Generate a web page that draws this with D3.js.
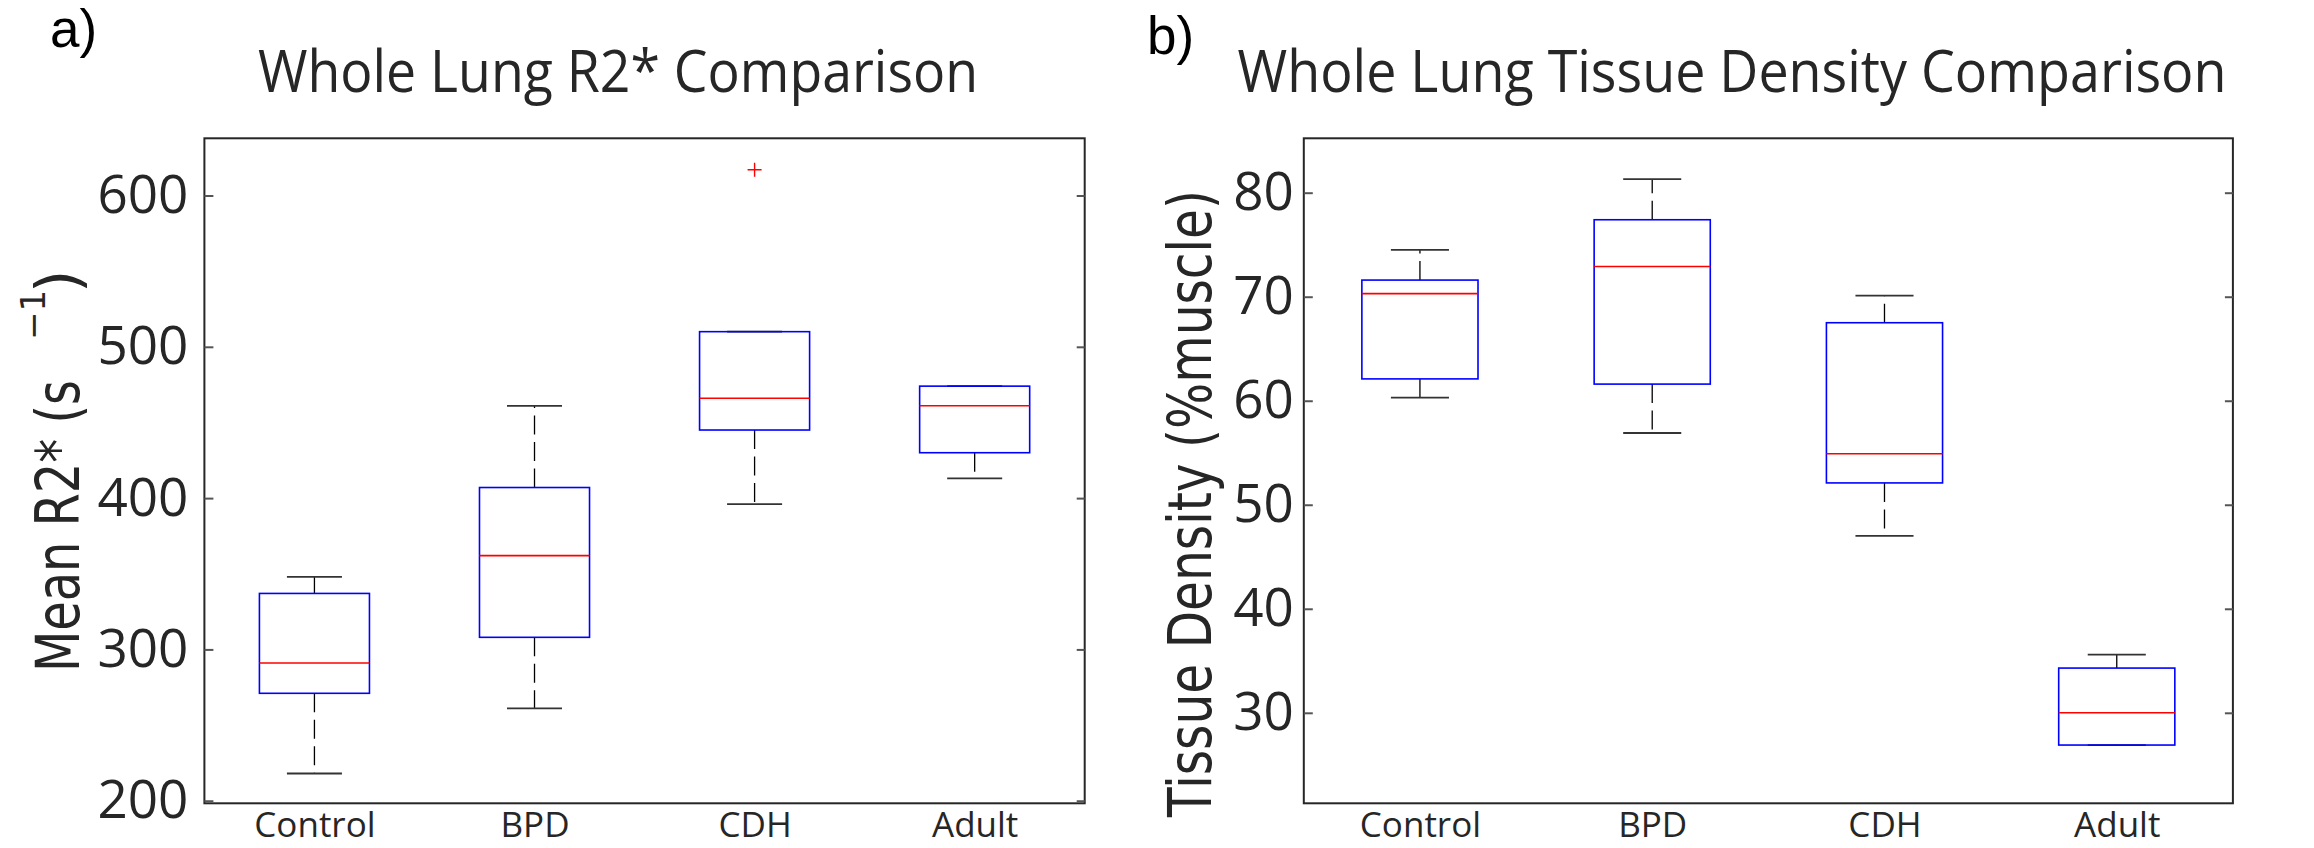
<!DOCTYPE html>
<html>
<head>
<meta charset="utf-8">
<script src="https://cdn.jsdelivr.net/npm/d3@7"></script>
<style>
    body { margin: 0; background: #ffffff; }
    .tick text { fill: #262626; }
</style>
</head>
<body>
<div class="content-padded"></div>
<script>

// categories
let groups = ["Control", "BPD", "CDH", "Adult"];

// a) whole lung R2* (s^-1) box stats
let r2Low = [218, 261, 396, 413];
let r2Q1 = [271, 308, 445, 430];
let r2Median = [291, 362, 466, 461];
let r2Q3 = [337, 407, 510, 474];
let r2High = [348, 461, 510, 474];
let r2OutlierGroup = [2];
let r2OutlierValue = [617];
let r2Ticks = [200, 300, 400, 500, 600];

// b) tissue density (%muscle) box stats
let tdLow = [60.3, 56.9, 47.0, 26.9];
let tdQ1 = [62.1, 61.6, 52.1, 26.9];
let tdMedian = [70.3, 72.9, 54.9, 30.0];
let tdQ3 = [71.6, 77.4, 67.5, 34.3];
let tdHigh = [74.5, 81.3, 70.1, 35.6];
let tdOutlierGroup = [];
let tdOutlierValue = [];
let tdTicks = [30, 40, 50, 60, 70, 80];

let width = 2314;
let height = 848;
let plotTop = 138.3;
let plotBottom = 803.3;
let textColor = "#262626";

let svg = d3.select(".content-padded")
    .append("svg")
    .attr("width", width)
    .attr("height", height)
    .attr("style", "background-color:#ffffff");

function drawPanel(opt) {
    let g = svg.append("g");

    /* Graph Scales */
    let xScale = d3.scaleLinear()
        .domain([0.5, groups.length + 0.5])
        .range([opt.left, opt.right]);

    let yScale = d3.scaleLinear()
        .domain(opt.yDomain)
        .range([plotBottom, plotTop]);

    let unit = xScale(2) - xScale(1);

    // frame
    g.append("rect")
        .attr("x", opt.left)
        .attr("y", plotTop)
        .attr("width", opt.right - opt.left)
        .attr("height", plotBottom - plotTop)
        .attr("fill", "none")
        .attr("stroke", textColor)
        .attr("stroke-width", 2);

    /* y axis, ticks pointing inside */
    let yAxis = d3.axisLeft()
        .scale(yScale)
        .tickValues(opt.ticks)
        .tickSize(-9)
        .tickPadding(opt.tickPad)
        .tickFormat(d3.format("d"));

    let ya = g.append("g")
        .attr("transform", "translate(" + opt.left + ",0)")
        .call(yAxis);
    ya.select(".domain").remove();
    ya.selectAll("line").attr("stroke", "#555").attr("stroke-width", 2);
    ya.selectAll("text")
        .attr("font-family", "'Open Sans', sans-serif")
        .attr("font-size", 53);

    let yRight = d3.axisRight()
        .scale(yScale)
        .tickValues(opt.ticks)
        .tickSize(-8)
        .tickFormat("");

    let yr = g.append("g")
        .attr("transform", "translate(" + opt.right + ",0)")
        .call(yRight);
    yr.select(".domain").remove();
    yr.selectAll("line").attr("stroke", "#555").attr("stroke-width", 2);

    /* x axis: labels only */
    let xAxis = d3.axisBottom()
        .scale(xScale)
        .tickValues(d3.range(1, groups.length + 1))
        .tickSize(0)
        .tickPadding(9)
        .tickFormat(function (d) { return groups[d - 1]; });

    let xa = g.append("g")
        .attr("transform", "translate(0," + plotBottom + ")")
        .call(xAxis);
    xa.select(".domain").remove();
    xa.selectAll("text")
        .attr("font-family", "'Open Sans', sans-serif")
        .attr("font-size", 35);

    // boxes
    let items = groups.map(function (name, i) {
        return {
            pos: i + 1,
            low: opt.low[i], q1: opt.q1[i], med: opt.median[i],
            q3: opt.q3[i], high: opt.high[i]
        };
    });

    let box = g.selectAll(".box")
        .data(items)
        .enter()
        .append("g")
        .attr("class", "box");

    // whiskers (dashed)
    box.append("line")
        .attr("x1", d => xScale(d.pos)).attr("x2", d => xScale(d.pos))
        .attr("y1", d => yScale(d.q3)).attr("y2", d => yScale(d.high))
        .attr("stroke", "#000").attr("stroke-width", 1.3)
        .attr("stroke-dasharray", "19,7.5");
    box.append("line")
        .attr("x1", d => xScale(d.pos)).attr("x2", d => xScale(d.pos))
        .attr("y1", d => yScale(d.q1)).attr("y2", d => yScale(d.low))
        .attr("stroke", "#000").attr("stroke-width", 1.3)
        .attr("stroke-dasharray", "19,7.5");

    // caps
    ["high", "low"].forEach(function (k) {
        box.append("line")
            .attr("x1", d => xScale(d.pos - 0.125)).attr("x2", d => xScale(d.pos + 0.125))
            .attr("y1", d => yScale(d[k])).attr("y2", d => yScale(d[k]))
            .attr("stroke", "#333").attr("stroke-width", 1.8);
    });

    box.append("rect")
        .attr("x", d => xScale(d.pos - 0.25))
        .attr("width", unit * 0.5)
        .attr("y", d => yScale(d.q3))
        .attr("height", d => yScale(d.q1) - yScale(d.q3))
        .attr("fill", "none")
        .attr("stroke", "#0000ff")
        .attr("stroke-width", 1.6);

    box.append("line")
        .attr("x1", d => xScale(d.pos - 0.25)).attr("x2", d => xScale(d.pos + 0.25))
        .attr("y1", d => yScale(d.med)).attr("y2", d => yScale(d.med))
        .attr("stroke", "#ff0000").attr("stroke-width", 1.6);

    // outliers as red +
    let outs = opt.outGroup.map((p, i) => ({ pos: p + 1, v: opt.outValue[i] }));
    g.selectAll(".outlier")
        .data(outs)
        .enter()
        .append("path")
        .attr("class", "outlier")
        .attr("d", d => {
            let cx = xScale(d.pos), cy = yScale(d.v);
            return "M" + (cx - 7) + "," + cy + "H" + (cx + 7) + "M" + cx + "," + (cy - 7) + "V" + (cy + 7);
        })
        .attr("stroke", "#ff0000")
        .attr("stroke-width", 1.4)
        .attr("fill", "none");

    // title
    g.append("text")
        .attr("x", opt.titleX)
        .attr("y", 92)
        .attr("text-anchor", "middle")
        .attr("font-family", "'Open Sans', sans-serif")
        .attr("font-size", 59)
        .attr("fill", textColor)
        .attr("textLength", opt.titleLen)
        .attr("lengthAdjust", "spacingAndGlyphs")
        .text(opt.title);

    // panel letter
    g.append("text")
        .attr("x", opt.letterX)
        .attr("y", opt.letterY)
        .attr("font-family", "'Liberation Sans', Arial, sans-serif")
        .attr("font-size", 53)
        .attr("fill", "#000")
        .text(opt.letter);

    return g;
}

let leftPanel = drawPanel({
    left: 204.4, right: 1084.7, yDomain: [198.3, 637.8], ticks: r2Ticks, tickPad: 16,
    low: r2Low, q1: r2Q1, median: r2Median, q3: r2Q3, high: r2High,
    outGroup: r2OutlierGroup, outValue: r2OutlierValue,
    title: "Whole Lung R2* Comparison", titleX: 618, titleLen: 720,
    letter: "a)", letterX: 50, letterY: 47
});

let rightPanel = drawPanel({
    left: 1303.8, right: 2232.9, yDomain: [21.3, 85.23], ticks: tdTicks, tickPad: 10,
    low: tdLow, q1: tdQ1, median: tdMedian, q3: tdQ3, high: tdHigh,
    outGroup: tdOutlierGroup, outValue: tdOutlierValue,
    title: "Whole Lung Tissue Density Comparison", titleX: 1732, titleLen: 989,
    letter: "b)", letterX: 1147, letterY: 54
});

/* y labels, rotated */
let labelFont = "'DejaVu Sans', sans-serif";

leftPanel.append("text")
    .attr("transform", "translate(79,672) rotate(-90)")
    .attr("font-family", labelFont)
    .attr("font-size", 60)
    .attr("fill", textColor)
    .attr("textLength", 292)
    .attr("lengthAdjust", "spacingAndGlyphs")
    .text("Mean R2* (s");

leftPanel.append("text")
    .attr("transform", "translate(45,340) rotate(-90)")
    .attr("font-family", labelFont)
    .attr("font-size", 34)
    .attr("fill", textColor)
    .text("\u22121");

leftPanel.append("text")
    .attr("transform", "translate(79,293) rotate(-90)")
    .attr("font-family", labelFont)
    .attr("font-size", 60)
    .attr("fill", textColor)
    .text(")");

rightPanel.append("text")
    .attr("transform", "translate(1211,817) rotate(-90)")
    .attr("font-family", labelFont)
    .attr("font-size", 60)
    .attr("fill", textColor)
    .attr("textLength", 627)
    .attr("lengthAdjust", "spacingAndGlyphs")
    .text("Tissue Density (%muscle)");

</script>
</body>
</html>
